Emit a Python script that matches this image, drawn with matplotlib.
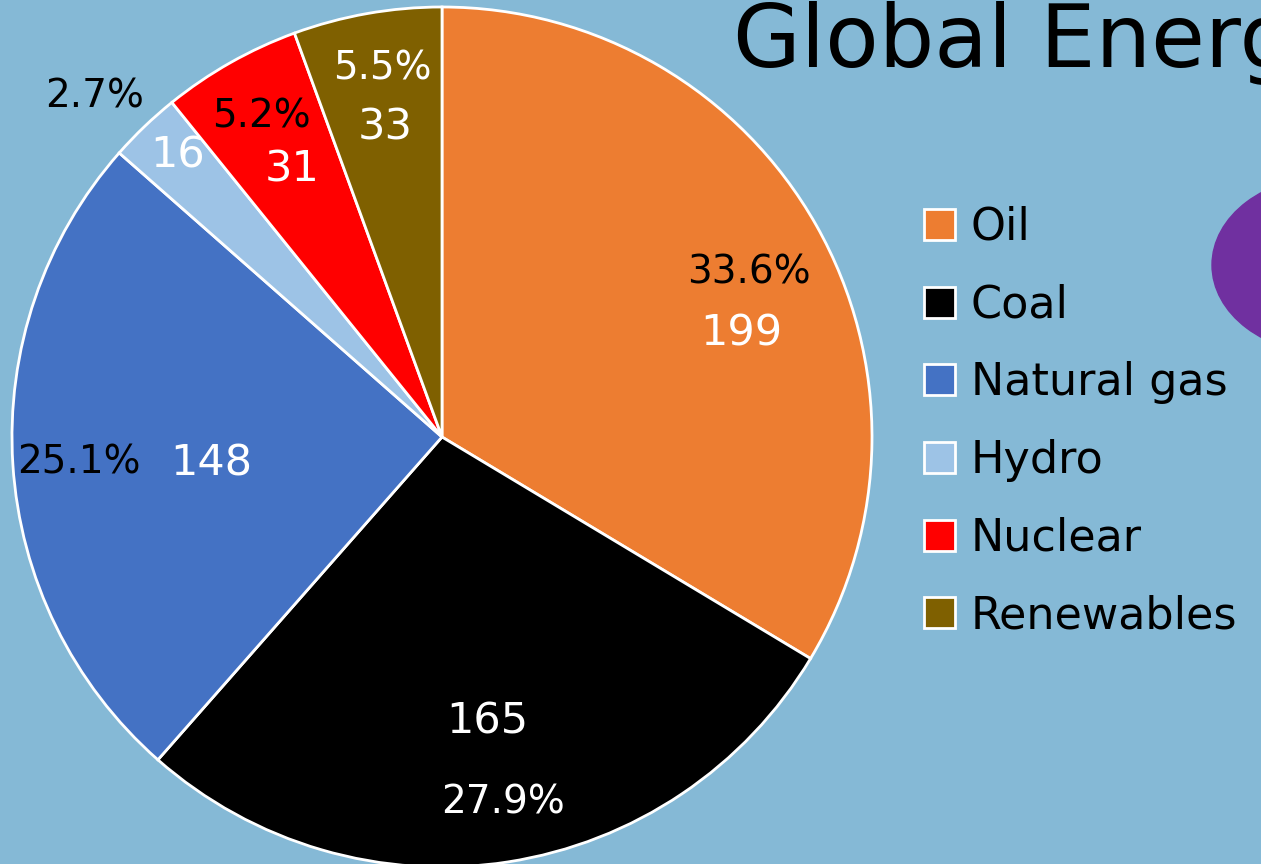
import matplotlib.pyplot as plt
from matplotlib.patches import Ellipse

# Data
sources = ['Oil', 'Coal', 'Natural gas', 'Hydro', 'Nuclear', 'Renewables']
values = [199, 165, 148, 16, 31, 33]
shares = [33.6, 27.9, 25.1, 2.7, 5.2, 5.5]  # percent labels as printed
colors = ['#ED7D31', '#000000', '#4472C4', '#9DC3E6', '#FF0000', '#7F6000']
pct_colors = ['black', 'white', 'black', 'black', 'black', 'white']

# label spots (pixels in the 1261x864 picture): percent, then value
pct_pos = [(749, 272), (503, 802), (79, 463), (95, 97), (261, 117), (382, 68)]
val_pos = [(741, 334), (487, 721), (211, 463), (178, 156), (292, 170), (385, 128)]

bg = '#85B9D6'
plt.rcParams['font.family'] = ['DejaVu Sans']

W, H = 1261, 864
fig = plt.figure(figsize=(W / 100, H / 100), dpi=100, facecolor=bg)

# purple blob on the right edge
fig.patches.append(Ellipse((1330 / W, 1 - 265 / H), 236 / W, 178 / H,
                           transform=fig.transFigure, color='#7030A0', zorder=0))

cx, cy, r = 442, 437, 430
ax = fig.add_axes([(cx - r) / W, (H - cy - r) / H, 2 * r / W, 2 * r / H])
ax.set_facecolor('none')
wedges, _ = ax.pie(values, colors=colors, startangle=90, counterclock=False,
                   radius=1, wedgeprops=dict(edgecolor='white', linewidth=2))
ax.set_xlim(-1, 1)
ax.set_ylim(-1, 1)
ax.set_aspect('equal')
ax.axis('off')

for i, v in enumerate(values):
    px, py = pct_pos[i]
    fig.text(px / W, 1 - py / H, f'{shares[i]:.1f}%', color=pct_colors[i],
             fontsize=28, ha='center', va='center')
    px, py = val_pos[i]
    fig.text(px / W, 1 - py / H, str(v), color='white',
             fontsize=31, ha='center', va='center')

fig.text(733 / W, 1 - 67 / H, 'Global Energy Consumption', fontsize=63,
         color='black', ha='left', va='baseline')

fig.legend(wedges, sources, loc='upper left', bbox_to_anchor=(924 / W, 1 - 206 / H),
           frameon=False, fontsize=32, handlelength=0.7, handleheight=0.7,
           handletextpad=0.35, labelspacing=0.78, borderpad=0, borderaxespad=0)

fig.savefig('out.png', dpi=100, facecolor=bg)
